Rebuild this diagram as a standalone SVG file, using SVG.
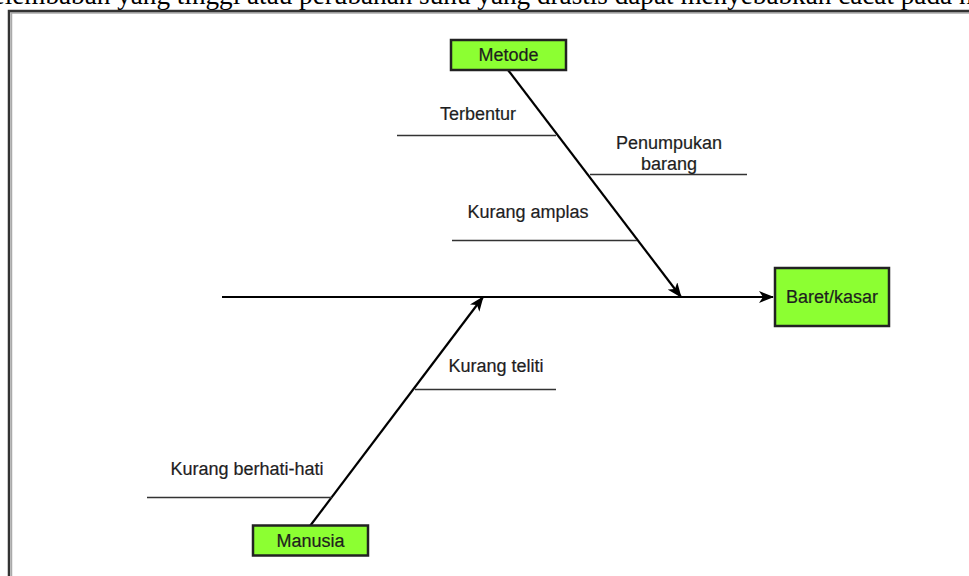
<svg xmlns="http://www.w3.org/2000/svg" width="969" height="576" viewBox="0 0 969 576">
<style>
.lbl{font-family:"Liberation Sans",Arial,sans-serif;font-size:18px;fill:#1e1e1e;stroke:#1e1e1e;stroke-width:0.2;text-anchor:middle}
.box{fill:#8cff32;stroke:#222;stroke-width:2.5}
.spine{stroke:#000;stroke-width:2.2;fill:none}
.rib{stroke:#333;stroke-width:1.4;fill:none}
</style>
<defs>
<marker id="arr" markerUnits="userSpaceOnUse" markerWidth="16" markerHeight="12" refX="14" refY="6" orient="auto">
<path d="M0,0 L15,6 L0,12 L4,6 z" fill="#000"/>
</marker>
</defs>
<rect width="969" height="576" fill="#fff"/>
<text x="-21" y="3.5" style="font-family:'Liberation Serif','Times New Roman',serif;font-size:27.2px;fill:#000">kelembaban yang tinggi atau perubahan suhu yang drastis dapat menyebabkan cacat pada hasil</text>
<g id="frame">
<rect x="11.5" y="13" width="1000" height="600" fill="none" stroke="#aaa" stroke-width="1.5"/>
<rect x="9" y="11" width="1000" height="600" fill="none" stroke="#333" stroke-width="2.5"/>
</g>
<g id="connectors">
<line class="spine" x1="222" y1="297" x2="773" y2="297" marker-end="url(#arr)"/>
<line class="spine" x1="508" y1="70" x2="681" y2="297" marker-end="url(#arr)"/>
<line class="spine" x1="310" y1="526" x2="483" y2="297" marker-end="url(#arr)"/>
<line class="rib" x1="397" y1="135.5" x2="556" y2="135.5"/>
<line class="rib" x1="590" y1="174.5" x2="747" y2="174.5"/>
<line class="rib" x1="452" y1="240.5" x2="637" y2="240.5"/>
<line class="rib" x1="415" y1="389.5" x2="556" y2="389.5"/>
<line class="rib" x1="147" y1="497.5" x2="332" y2="497.5"/>
</g>
<g id="labels">
<text class="lbl" x="478" y="120">Terbentur</text>
<text class="lbl" x="669" y="149">Penumpukan</text>
<text class="lbl" x="669" y="170">barang</text>
<text class="lbl" x="528" y="218">Kurang amplas</text>
<text class="lbl" x="496" y="372">Kurang teliti</text>
<text class="lbl" x="247" y="475">Kurang berhati-hati</text>
</g>
<g id="node-metode">
<rect class="box" x="451" y="40" width="115" height="30"/>
<text class="lbl" x="508.5" y="61">Metode</text>
</g>
<g id="node-baret">
<rect class="box" x="775" y="268" width="114" height="58"/>
<text class="lbl" x="832" y="303">Baret/kasar</text>
</g>
<g id="node-manusia">
<rect class="box" x="253" y="525.5" width="115" height="30"/>
<text class="lbl" x="310.5" y="546.5">Manusia</text>
</g>
</svg>
